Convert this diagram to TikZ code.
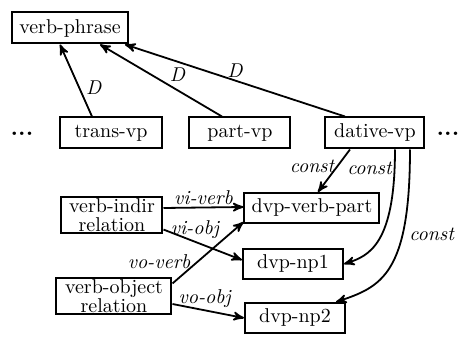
\documentclass[tikz,border=0pt]{standalone}
\usetikzlibrary{positioning}
\usetikzlibrary{arrows}
\usetikzlibrary{calc}
\tikzset{typebox/.style={ % boxes for the types
draw,
line width=1pt,
inner sep=2pt,
minimum height=15.5pt},
relbox/.style={ % two-line relation boxes
typebox,
align=center,
inner sep=0.5pt,
minimum height=0pt},
every edge/.style={ % links between boxes
draw,
->,>=stealth',
line width=0.9pt},
lab/.style={font=\itshape, inner sep=1pt}}

\begin{document}
\begin{tikzpicture}[x=0.5pt, y=-0.5pt]
    \useasboundingbox (0,0) rectangle (463,337);
    \node[typebox, minimum width=58pt] (vp) at (70,28) {verb-phrase};
    \node[typebox, minimum width=51pt] (trans) at (111,133) {trans-vp};
    \node[typebox, minimum width=50.5pt] (part) at (240,133) {part-vp};
    \node[typebox, minimum width=49.5pt] (dative) at (375,133) {dative-vp};
    \node (ldots) at (22,134) {\large\textbf{...}};
    \node (rdots) at (448,134) {\large\textbf{...}};
    \node[relbox, minimum width=50.5pt] (indir) at (112,215) {verb-indir\\[-2.5pt]relation};
    \node[relbox, minimum width=57.5pt] (object) at (114,296) {verb-object\\[-2.5pt]relation};
    \node[typebox, minimum width=67.5pt, minimum height=15pt] (dvpverb) at (312,208) {dvp-verb-part};
    \node[typebox, minimum width=50pt, minimum height=15pt] (np1) at (293,264) {dvp-np1};
    \node[typebox, minimum width=50pt, minimum height=15pt] (np2) at (295,318) {dvp-np2};
    \draw ($(trans.north)+(-19,0)$) edge node[lab, pos=0.4, right=2pt] {D} ($(vp.south)+(-10,0)$);
    \draw ($(part.north)+(-18,0)$) edge node[lab, pos=0.45, above right] {D} ($(vp.south)+(30,0)$);
    \draw ($(dative.north)+(-30,0)$) edge node[lab, pos=0.5, above] {D} ($(vp.south east)+(-4,0)$);
    \draw ($(dative.south)+(-25,0)$) edge node[lab, pos=0.4, left] {const} ($(dvpverb.north)+(6,0)$);
    \draw[->, >=stealth', line width=0.9pt] ($(dative.south)+(20,0)$) .. controls +(0,95) and +(25,-8) .. node[lab, pos=0.07, left] {const} (np1.east);
    \draw[->, >=stealth', line width=0.9pt] ($(dative.south)+(35,0)$) .. controls +(0,125) and +(45,-15) .. node[lab, pos=0.3, right=2pt] {const} ($(np2.north east)+(-10,0)$);
    \draw ($(indir.east)+(0,-7)$) edge node[lab, above] {vi-verb} ($(dvpverb.west)+(0,-1)$);
    \draw ($(indir.south east)+(0,-4)$) edge node[lab, pos=0.4, above] {vi-obj} ($(np1.west)+(0,-4)$);
    \draw ($(object.north east)+(0,6)$) edge node[lab, pos=0.35, left=2pt] {vo-verb} ($(dvpverb.south west)+(0,-2)$);
    \draw ($(object.east)+(0,8)$) edge node[lab, pos=0.45, above] {vo-obj} (np2.west);
\end{tikzpicture}
\end{document}
